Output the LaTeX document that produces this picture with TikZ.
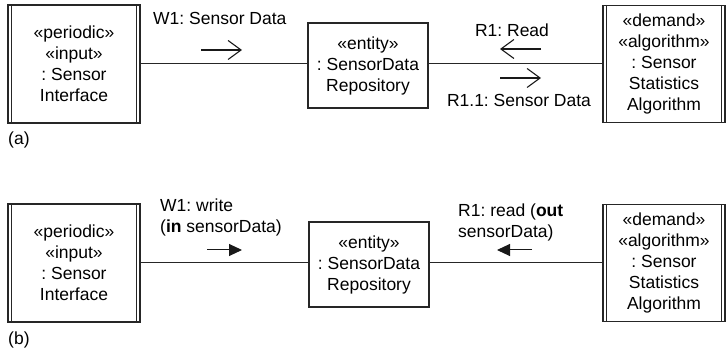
\documentclass[tikz,border=0pt]{standalone}
\usepackage{fontspec}
\setmainfont{Liberation Sans}
\usetikzlibrary{arrows.meta}
\frenchspacing

\begin{document}
\begin{tikzpicture}[x=1pt, y=-1pt,
    every node/.style={font=\fontsize{17.5}{21}\selectfont, align=center, inner sep=0pt},
    obj/.style={rectangle, draw=black!85, line width=1.4pt},
    conn/.style={draw=black!85, line width=1pt},
    msgopen/.style={-{Straight Barb[length=13pt, width=19pt]}, black!90, line width=1.1pt},
    msgfill/.style={-{Triangle[length=13pt, width=12pt]}, black!90, line width=1pt},
    lbl/.style={anchor=west, align=left}
]
\useasboundingbox (0,0) rectangle (726,352);

% (a) asynchronous messages
\node[obj, minimum width=132pt, minimum height=118pt] (sia) at (74,64)
    {«periodic»\\«input»\\: Sensor\\Interface};
\node[obj, minimum width=120pt, minimum height=85pt] (repa) at (368,65.5)
    {«entity»\\: SensorData\\Repository};
\node[obj, minimum width=122pt, minimum height=117pt] (ssa) at (664,64)
    {«demand»\\«algorithm»\\: Sensor\\Statistics\\Algorithm};
\draw[conn] (sia.east) -- (sia.east -| repa.west);
\draw[conn] (repa.east |- ssa.west) -- (ssa.west);
\node[lbl] (w1a) at (153,18) {W1: Sensor Data};
\coordinate (w1as) at (201,50); \coordinate (w1ae) at (242,50);
\draw[msgopen] (w1as) -- (w1ae);
\node (r1a) at (512,30) {R1: Read};
\coordinate (r1as) at (541,49); \coordinate (r1ae) at (500,49);
\draw[msgopen] (r1as) -- (r1ae);
\coordinate (r11as) at (500,78); \coordinate (r11ae) at (541,78);
\draw[msgopen] (r11as) -- (r11ae);
\node (r11a) at (519,100) {R1.1: Sensor Data};
\node[anchor=west] (laba) at (8,140) {(a)};

% (b) synchronous messages
\node[obj, minimum width=132pt, minimum height=118pt] (sib) at (74,263)
    {«periodic»\\«input»\\: Sensor\\Interface};
\node[obj, minimum width=120pt, minimum height=85pt] (repb) at (369,264.5)
    {«entity»\\: SensorData\\Repository};
\node[obj, minimum width=122pt, minimum height=117pt] (ssb) at (664,263)
    {«demand»\\«algorithm»\\: Sensor\\Statistics\\Algorithm};
\draw[conn] (sib.east) -- (sib.east -| repb.west);
\draw[conn] (repb.east |- ssb.west) -- (ssb.west);
\node[lbl] (w1b) at (160,217) {W1: write\\(\textbf{in} sensorData)};
\coordinate (w1bs) at (207,250); \coordinate (w1be) at (242,250);
\draw[msgfill] (w1bs) -- (w1be);
\node[lbl] (r1b) at (458,222.5) {R1: read (\textbf{out}\\sensorData)};
\coordinate (r1bs) at (532,250); \coordinate (r1be) at (497,250);
\draw[msgfill] (r1bs) -- (r1be);
\node[anchor=west] (labb) at (8,340) {(b)};

% active objects: double side lines
\foreach \n in {sia,ssa,sib,ssb} {
  \draw[black!85, line width=1.4pt] ([xshift=4pt]\n.north west) -- ([xshift=4pt]\n.south west);
  \draw[black!85, line width=1.4pt] ([xshift=-4pt]\n.north east) -- ([xshift=-4pt]\n.south east);
}
\end{tikzpicture}
\end{document}
